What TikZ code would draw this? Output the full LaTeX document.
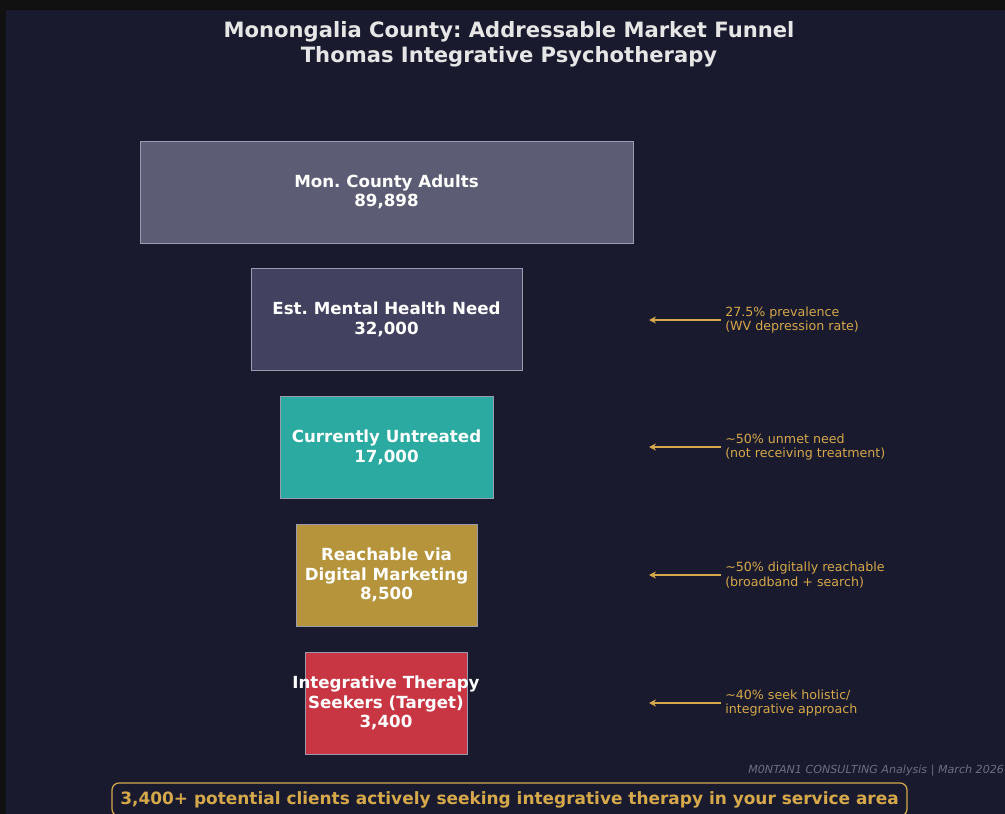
\documentclass[tikz,border=0pt]{standalone}
\usepackage{fontspec}
\setmainfont{DejaVu Sans}
\usetikzlibrary{positioning,arrows.meta}
\frenchspacing

\definecolor{outerdark}{HTML}{111111}
\definecolor{bgdark}{HTML}{1A1A2E}
\definecolor{titlegray}{HTML}{E6E6E6}
\definecolor{stageedge}{HTML}{9A9AB0}
\definecolor{adultfill}{HTML}{5C5C74}
\definecolor{needfill}{HTML}{424260}
\definecolor{tealfill}{HTML}{2AAAA0}
\definecolor{goldfill}{HTML}{B5943C}
\definecolor{redfill}{HTML}{C73642}
\definecolor{gold}{HTML}{D4A84B}
\definecolor{creditgray}{HTML}{6E6E82}

\begin{document}
\begin{tikzpicture}[x=0.72pt,y=-0.72pt,
    stage/.style={draw=stageedge, line width=0.7pt, text=white, align=center,
        font=\bfseries\fontsize{12}{14}\selectfont, inner sep=0pt},
    note/.style={anchor=west, text=gold, align=left, inner sep=0pt,
        font=\fontsize{9.1}{10.2}\selectfont},
    pointer/.style={-{Stealth[length=5pt,width=5pt]}, draw=gold, line width=1.1pt, shorten <=2.9pt}]
    \useasboundingbox (0,0) rectangle (1005,814);
    \fill[outerdark] (0,0) rectangle (1005,814);
    \fill[bgdark] (6,10) rectangle (1005,814);

    % title
    \node[text=titlegray, align=center, font=\bfseries\fontsize{15.2}{18.3}\selectfont] (title) at (509,44)
        {Monongalia County: Addressable Market Funnel\\Thomas Integrative Psychotherapy};

    % funnel stages
    \node[stage, fill=adultfill, minimum width=493*0.72pt, minimum height=102*0.72pt] (adults) at (386.5,192)
        {Mon. County Adults\\89,898};
    \node[stage, fill=needfill, minimum width=271*0.72pt, minimum height=102*0.72pt] (need) at (386.5,319.5)
        {Est. Mental Health Need\\32,000};
    \node[stage, fill=tealfill, minimum width=213*0.72pt, minimum height=102*0.72pt] (untreated) at (386.5,447.5)
        {Currently Untreated\\17,000};
    \node[stage, fill=goldfill, minimum width=181*0.72pt, minimum height=102*0.72pt] (reachable) at (386.5,575)
        {Reachable via\\Digital Marketing\\8,500};
    \node[stage, fill=redfill, minimum width=162*0.72pt, minimum height=102*0.72pt] (target) at (386,703)
        {\makebox[0pt]{Integrative Therapy}\\Seekers (Target)\\3,400};

    % conversion notes
    \node[note] (noteneed) at (725,320) {27.5\% prevalence\\(WV depression rate)};
    \node[note] (noteuntreated) at (725,447) {\textasciitilde 50\% unmet need\\(not receiving treatment)};
    \node[note] (notereach) at (725,575) {\textasciitilde 50\% digitally reachable\\(broadband + search)};
    \node[note] (notetarget) at (725,703) {\textasciitilde 40\% seek holistic/\\integrative approach};

    \coordinate (tipneed) at (649,320);
    \coordinate (tipuntreated) at (649,447);
    \coordinate (tipreach) at (649,575);
    \coordinate (tiptarget) at (649,703);
    \draw[pointer] (noteneed.west) -- (tipneed);
    \draw[pointer] (noteuntreated.west) -- (tipuntreated);
    \draw[pointer] (notereach.west) -- (tipreach);
    \draw[pointer] (notetarget.west) -- (tiptarget);

    % footer
    \node[anchor=west, inner sep=0pt, text=creditgray, font=\itshape\fontsize{8}{10}\selectfont] (credit) at (748,770.5)
        {M0NTAN1 CONSULTING Analysis | March 2026};
    \node[draw=gold, line width=0.9pt, rounded corners=5pt, fill=bgdark, text=gold,
        font=\bfseries\fontsize{12.2}{14}\selectfont, minimum width=795*0.72pt, minimum height=33*0.72pt] (banner) at (509.5,799.5)
        {3,400+ potential clients actively seeking integrative therapy in your service area};
\end{tikzpicture}
\end{document}
